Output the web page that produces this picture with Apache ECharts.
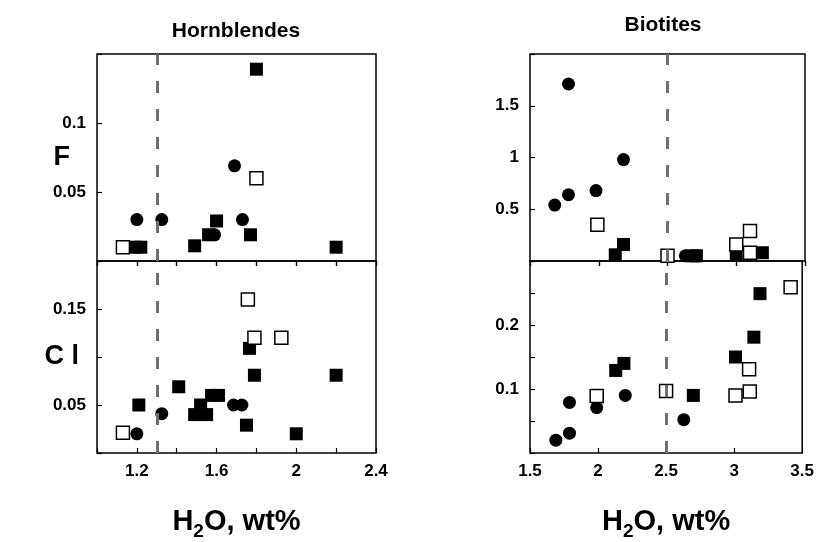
<!DOCTYPE html>
<html>
<head>
<meta charset="utf-8">
<script src="https://cdn.jsdelivr.net/npm/echarts@6/dist/echarts.min.js"></script>
<style>
  html, body { margin: 0; padding: 0; background: #fff; }
  #main { width: 817px; height: 542px; }
</style>
</head>
<body>
<div id="main"></div>
<script>
// Hornblendes: [H2O wt%, F] and [H2O wt%, Cl]
const hbFCircle = [[1.2, 0.030], [1.325, 0.030], [1.59, 0.019], [1.69, 0.069], [1.73, 0.030]];
const hbFSquare = [[1.19, 0.010], [1.22, 0.010], [1.49, 0.011], [1.56, 0.019], [1.60, 0.029], [1.77, 0.019], [1.80, 0.139], [2.20, 0.010]];
const hbFOpen = [[1.13, 0.010], [1.80, 0.060]];

const hbClCircle = [[1.2, 0.020], [1.325, 0.041], [1.685, 0.050], [1.727, 0.050]];
const hbClSquare = [[1.21, 0.050], [1.41, 0.069], [1.49, 0.040], [1.55, 0.040], [1.52, 0.050], [1.575, 0.060], [1.61, 0.060], [1.75, 0.029], [1.765, 0.109], [1.79, 0.081], [2.0, 0.020], [2.2, 0.081]];
const hbClOpen = [[1.13, 0.021], [1.757, 0.160], [1.79, 0.120], [1.925, 0.120]];

// Biotites
const btFCircle = [[1.68, 0.54], [1.78, 0.64], [1.78, 1.71], [1.98, 0.68], [2.18, 0.98], [2.63, 0.05]];
const btFSquare = [[2.12, 0.06], [2.18, 0.16], [2.68, 0.05], [2.71, 0.05], [3.0, 0.06], [3.19, 0.08]];
const btFOpen = [[1.99, 0.35], [2.5, 0.05], [3.0, 0.16], [3.1, 0.29], [3.1, 0.08]];

const btClCircle = [[1.69, 0.020], [1.79, 0.031], [1.79, 0.079], [1.99, 0.071], [2.2, 0.090], [2.63, 0.052]];
const btClSquare = [[2.13, 0.129], [2.19, 0.140], [2.7, 0.090], [3.01, 0.150], [3.145, 0.181], [3.19, 0.249]];
const btClOpen = [[1.99, 0.089], [2.5, 0.097], [3.01, 0.090], [3.115, 0.096], [3.11, 0.131], [3.415, 0.259]];

// dashed limits
const hbLimit = 1.3;
const btLimit = 2.5;

// tick labels shown
const hbXLabels = ["1.2", "1.6", "2", "2.4"];
const btXLabels = ["1.5", "2", "2.5", "3", "3.5"];
const hbFLabels = ["0.05", "0.1"];
const hbClLabels = ["0.05", "0.15"];
const btFLabels = ["0.5", "1", "1.5"];
const btClLabels = ["0.1", "0.2"];

const font = "'Liberation Sans', Arial, sans-serif";
const ink = "#000";

function pick(labels) {
  return function (v) {
    let s = String(+v.toFixed(3));
    return labels.indexOf(s) >= 0 ? s : "";
  };
}

function xAxis(grid, pos, min, max, interval, opts) {
  return Object.assign({
    type: "value",
    gridIndex: grid,
    position: pos,
    min: min,
    max: max,
    interval: interval,
    axisLine: { show: false },
    axisTick: { show: true, inside: true, length: 5, lineStyle: { color: ink, width: 1.2 } },
    axisLabel: { show: false },
    splitLine: { show: false },
  }, opts || {});
}

function yAxis(grid, min, max, interval, labels, name, gap) {
  return {
    type: "value",
    gridIndex: grid,
    min: min,
    max: max,
    interval: interval,
    name: name || "",
    nameLocation: "middle",
    nameRotate: 0,
    nameGap: gap || 28,
    nameMoveOverlap: false,
    nameTextStyle: { fontFamily: font, fontWeight: "bold", fontSize: 27, color: ink },
    axisLine: { show: false },
    axisTick: { show: true, inside: true, length: 5, lineStyle: { color: ink, width: 1.2 } },
    axisLabel: {
      fontFamily: font, fontWeight: "bold", fontSize: 17, color: ink, margin: 11,
      formatter: pick(labels),
    },
    splitLine: { show: false },
  };
}

const h2oName = {
  name: "H{s|2}O, wt%",
  nameLocation: "middle",
  nameGap: 50,
  nameTextStyle: {
    fontFamily: font, fontWeight: "bold", fontSize: 29, color: ink, lineHeight: 38,
    rich: { s: { fontFamily: font, fontWeight: "bold", fontSize: 19, color: ink, lineHeight: 14, verticalAlign: "bottom" } },
  },
};

function points(xi, yi, data, kind, limit) {
  let s = {
    type: "scatter",
    xAxisIndex: xi,
    yAxisIndex: yi,
    data: data,
    symbol: kind === "circle" ? "circle" : "rect",
    symbolSize: 13,
    itemStyle: kind === "open"
      ? { color: "#fff", borderColor: ink, borderWidth: 1.5, opacity: 1 }
      : { color: ink, opacity: 1 },
    z: kind === "open" ? 4 : 3,
  };
  if (limit !== undefined) {
    s.markLine = {
      silent: true,
      symbol: ["none", "none"],
      label: { show: false },
      lineStyle: { color: "#6e6e6e", width: 3, type: [12, 16], opacity: 1 },
      data: [{ xAxis: limit }],
    };
  }
  return s;
}

const chart = echarts.init(document.getElementById("main"));
chart.setOption({
  animation: false,
  textStyle: { fontFamily: font },
  title: [
    { text: "Hornblendes", left: 231, top: 16, textAlign: "center",
      textStyle: { fontFamily: font, fontWeight: "bold", fontSize: 21, color: ink } },
    { text: "Biotites", left: 658, top: 10, textAlign: "center",
      textStyle: { fontFamily: font, fontWeight: "bold", fontSize: 21, color: ink } },
  ],
  grid: [
    { left: 97, top: 54, width: 279, height: 207, show: true, borderColor: ink, borderWidth: 1.5 },
    { left: 97, top: 261, width: 279, height: 206, show: true, borderColor: ink, borderWidth: 1.5 },
    { left: 530, top: 54, width: 275, height: 207, show: true, borderColor: ink, borderWidth: 1.5 },
    { left: 530, top: 261, width: 275, height: 206, show: true, borderColor: ink, borderWidth: 1.5 },
  ],
  xAxis: [
    xAxis(0, "top", 1.0, 2.4, 0.2),
    xAxis(0, "bottom", 1.0, 2.4, 0.2, { axisTick: { show: true, inside: false, length: 5, lineStyle: { color: ink, width: 1.2 } } }),
    xAxis(1, "bottom", 1.0, 2.4, 0.2, Object.assign({
      axisLabel: { show: true, fontFamily: font, fontWeight: "bold", fontSize: 17, color: ink, margin: 10, formatter: pick(hbXLabels) },
    }, h2oName)),
    xAxis(2, "top", 1.5, 3.5, 0.5),
    xAxis(2, "bottom", 1.5, 3.5, 0.5, { axisTick: { show: true, inside: false, length: 5, lineStyle: { color: ink, width: 1.2 } } }),
    xAxis(3, "bottom", 1.5, 3.5, 0.5, Object.assign({
      axisLabel: { show: true, fontFamily: font, fontWeight: "bold", fontSize: 17, color: ink, margin: 10, formatter: pick(btXLabels) },
    }, h2oName)),
  ],
  yAxis: [
    yAxis(0, 0, 0.15, 0.05, hbFLabels, "F", 27),
    yAxis(1, 0, 0.2, 0.05, hbClLabels, "C l", 18),
    yAxis(2, 0, 2, 0.5, btFLabels),
    yAxis(3, 0, 0.3, 0.05, btClLabels),
  ],
  series: [
    points(0, 0, hbFSquare, "square", hbLimit),
    points(0, 0, hbFCircle, "circle"),
    points(0, 0, hbFOpen, "open"),
    points(2, 1, hbClSquare, "square", hbLimit),
    points(2, 1, hbClCircle, "circle"),
    points(2, 1, hbClOpen, "open"),
    points(3, 2, btFSquare, "square", btLimit),
    points(3, 2, btFCircle, "circle"),
    points(3, 2, btFOpen, "open"),
    points(5, 3, btClSquare, "square", btLimit),
    points(5, 3, btClCircle, "circle"),
    points(5, 3, btClOpen, "open"),
  ],
});
</script>
</body>
</html>
